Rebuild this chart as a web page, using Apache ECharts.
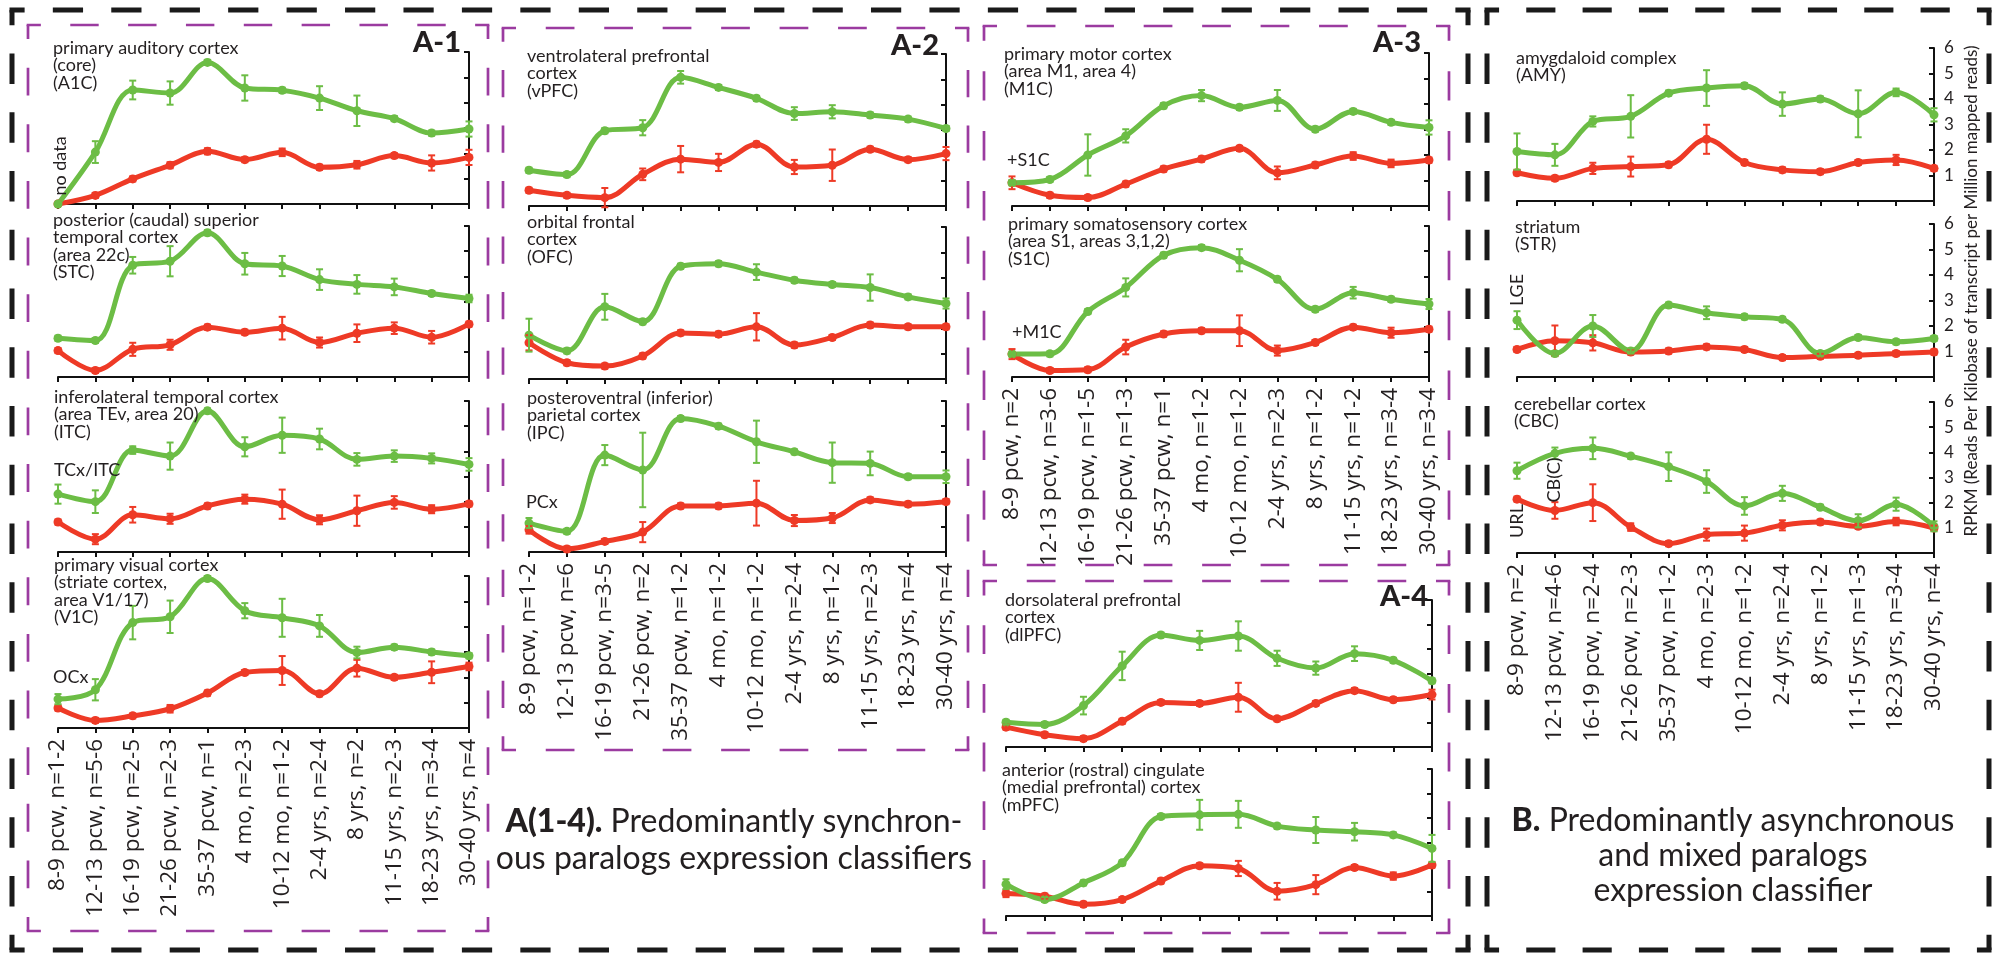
<!DOCTYPE html>
<html><head><meta charset="utf-8">
<script src="https://cdn.jsdelivr.net/npm/echarts@6/dist/echarts.min.js"></script>
<style>html,body{margin:0;padding:0;background:#fff}#c{width:1996px;height:955px}</style>
</head><body><div id="c"></div><script>
// ---------- categories (x tick labels) ----------
const catsA1 = ["8-9 pcw, n=1-2","12-13 pcw, n=5-6","16-19 pcw, n=2-5","21-26 pcw, n=2-3","35-37 pcw, n=1","4 mo, n=2-3","10-12 mo, n=1-2","2-4 yrs, n=2-4","8 yrs, n=2","11-15 yrs, n=2-3","18-23 yrs, n=3-4","30-40 yrs, n=4"];
const catsA2 = ["8-9 pcw, n=1-2","12-13 pcw, n=6","16-19 pcw, n=3-5","21-26 pcw, n=2","35-37 pcw, n=1-2","4 mo, n=1-2","10-12 mo, n=1-2","2-4 yrs, n=2-4","8 yrs, n=1-2","11-15 yrs, n=2-3","18-23 yrs, n=4","30-40 yrs, n=4"];
const catsA3 = ["8-9 pcw, n=2","12-13 pcw, n=3-6","16-19 pcw, n=1-5","21-26 pcw, n=1-3","35-37 pcw, n=1","4 mo, n=1-2","10-12 mo, n=1-2","2-4 yrs, n=2-3","8 yrs, n=1-2","11-15 yrs, n=1-2","18-23 yrs, n=3-4","30-40 yrs, n=3-4"];
const catsB  = ["8-9 pcw, n=2","12-13 pcw, n=4-6","16-19 pcw, n=2-4","21-26 pcw, n=2-3","35-37 pcw, n=1-2","4 mo, n=2-3","10-12 mo, n=1-2","2-4 yrs, n=2-4","8 yrs, n=1-2","11-15 yrs, n=1-3","18-23 yrs, n=3-4","30-40 yrs, n=4"];
const yTicksB = [1,2,3,4,5,6];

// ---------- series values (RPKM) : green / red paralogs with error half-widths ----------
const a1c_green = [0, 2.05, 4.5, 4.38, 5.59, 4.58, 4.49, 4.18, 3.68, 3.37, 2.8, 2.96];
const a1c_green_err = [0, 0.43, 0.37, 0.46, 0.1, 0.5, 0.1, 0.47, 0.6, 0.1, 0.1, 0.3];
const a1c_red = [0, 0.34, 0.99, 1.53, 2.08, 1.75, 2.04, 1.45, 1.55, 1.91, 1.62, 1.84];
const a1c_red_err = [0, 0.1, 0.1, 0.12, 0.12, 0.1, 0.15, 0.1, 0.15, 0.1, 0.3, 0.3];

const stc_green = [1.54, 1.45, 4.44, 4.6, 5.73, 4.5, 4.41, 3.87, 3.68, 3.58, 3.32, 3.12];
const stc_green_err = [0.1, 0.1, 0.33, 0.6, 0.1, 0.43, 0.4, 0.41, 0.37, 0.33, 0.1, 0.15];
const stc_red = [1.05, 0.26, 1.1, 1.28, 1.98, 1.78, 1.94, 1.37, 1.74, 1.94, 1.58, 2.1];
const stc_red_err = [0.1, 0.1, 0.26, 0.2, 0.1, 0.1, 0.45, 0.2, 0.35, 0.23, 0.25, 0.1];

const itc_green = [2.3, 2.0, 4.05, 3.81, 5.61, 4.18, 4.64, 4.49, 3.68, 3.81, 3.72, 3.48];
const itc_green_err = [0.38, 0.45, 0.15, 0.54, 0.1, 0.38, 0.7, 0.41, 0.25, 0.23, 0.2, 0.25];
const itc_red = [1.19, 0.51, 1.48, 1.32, 1.83, 2.1, 1.9, 1.28, 1.64, 1.97, 1.7, 1.91];
const itc_red_err = [0.1, 0.2, 0.31, 0.2, 0.1, 0.18, 0.58, 0.18, 0.6, 0.25, 0.16, 0.1];

const v1c_green = [1.14, 1.51, 4.16, 4.39, 5.9, 4.63, 4.35, 4.03, 2.98, 3.19, 3.0, 2.85];
const v1c_green_err = [0.2, 0.42, 0.66, 0.64, 0.1, 0.3, 0.75, 0.43, 0.23, 0.1, 0.1, 0.1];
const v1c_red = [0.79, 0.3, 0.48, 0.76, 1.38, 2.19, 2.27, 1.35, 2.36, 2.0, 2.2, 2.43];
const v1c_red_err = [0.1, 0.1, 0.1, 0.15, 0.1, 0.1, 0.57, 0.1, 0.33, 0.1, 0.43, 0.15];

const vpfc_green = [1.41, 1.24, 2.97, 3.09, 5.08, 4.68, 4.25, 3.65, 3.72, 3.59, 3.43, 3.06];
const vpfc_green_err = [0.1, 0.1, 0.1, 0.3, 0.25, 0.1, 0.1, 0.25, 0.26, 0.1, 0.1, 0.1];
const vpfc_red = [0.62, 0.42, 0.33, 1.25, 1.85, 1.72, 2.44, 1.54, 1.61, 2.24, 1.83, 2.07];
const vpfc_red_err = [0.1, 0.1, 0.38, 0.23, 0.52, 0.34, 0.1, 0.28, 0.62, 0.1, 0.1, 0.26];

const ofc_green = [1.73, 1.11, 2.85, 2.26, 4.45, 4.55, 4.22, 3.9, 3.73, 3.61, 3.24, 2.98];
const ofc_green_err = [0.65, 0.1, 0.51, 0.1, 0.1, 0.1, 0.31, 0.1, 0.1, 0.52, 0.1, 0.2];
const ofc_red = [1.43, 0.64, 0.51, 0.91, 1.82, 1.77, 2.06, 1.34, 1.64, 2.13, 2.06, 2.06];
const ofc_red_err = [0.3, 0.1, 0.1, 0.1, 0.1, 0.1, 0.54, 0.1, 0.1, 0.1, 0.1, 0.1];

const ipc_green = [1.15, 0.82, 3.85, 3.26, 5.3, 5.0, 4.38, 3.98, 3.55, 3.52, 2.99, 2.99];
const ipc_green_err = [0.2, 0.1, 0.4, 1.48, 0.1, 0.1, 0.84, 0.1, 0.8, 0.47, 0.1, 0.25];
const ipc_red = [0.88, 0.12, 0.42, 0.79, 1.83, 1.83, 1.94, 1.25, 1.35, 2.07, 1.9, 2.0];
const ipc_red_err = [0.15, 0.1, 0.1, 0.4, 0.1, 0.1, 0.89, 0.22, 0.2, 0.1, 0.1, 0.1];

const m1c_green = [0.91, 1.04, 2.0, 2.75, 3.93, 4.33, 3.87, 4.14, 3.01, 3.71, 3.28, 3.08];
const m1c_green_err = [0.1, 0.1, 0.81, 0.26, 0.1, 0.22, 0.1, 0.41, 0.1, 0.1, 0.1, 0.28];
const m1c_red = [0.91, 0.42, 0.33, 0.86, 1.45, 1.84, 2.26, 1.3, 1.61, 1.96, 1.67, 1.8];
const m1c_red_err = [0.25, 0.1, 0.1, 0.1, 0.1, 0.1, 0.1, 0.25, 0.1, 0.15, 0.15, 0.1];

const s1c_green = [0.91, 0.92, 2.6, 3.56, 4.84, 5.14, 4.64, 3.88, 2.69, 3.35, 3.09, 2.9];
const s1c_green_err = [0.1, 0.1, 0.1, 0.36, 0.1, 0.1, 0.44, 0.1, 0.1, 0.23, 0.1, 0.2];
const s1c_red = [0.91, 0.26, 0.29, 1.19, 1.71, 1.84, 1.84, 1.05, 1.37, 1.98, 1.76, 1.9];
const s1c_red_err = [0.2, 0.1, 0.1, 0.29, 0.1, 0.1, 0.61, 0.2, 0.1, 0.1, 0.2, 0.1];

const dlpfc_green = [1.01, 0.92, 1.69, 3.31, 4.57, 4.35, 4.53, 3.62, 3.22, 3.81, 3.54, 2.7];
const dlpfc_green_err = [0.1, 0.1, 0.36, 0.58, 0.1, 0.39, 0.6, 0.31, 0.27, 0.3, 0.1, 0.1];
const dlpfc_red = [0.81, 0.5, 0.34, 1.05, 1.82, 1.78, 2.03, 1.15, 1.78, 2.3, 1.93, 2.14];
const dlpfc_red_err = [0.1, 0.1, 0.1, 0.1, 0.1, 0.1, 0.59, 0.1, 0.1, 0.1, 0.1, 0.2];

const mpfc_green = [1.3, 0.67, 1.35, 2.17, 4.06, 4.13, 4.15, 3.67, 3.51, 3.44, 3.31, 2.76];
const mpfc_green_err = [0.2, 0.1, 0.1, 0.1, 0.1, 0.61, 0.55, 0.1, 0.53, 0.36, 0.1, 0.55];
const mpfc_red = [0.92, 0.81, 0.48, 0.67, 1.43, 2.05, 1.94, 1.01, 1.28, 1.98, 1.63, 2.08];
const mpfc_red_err = [0.15, 0.1, 0.1, 0.1, 0.1, 0.1, 0.31, 0.34, 0.39, 0.1, 0.15, 0.1];

const amy_green = [1.94, 1.81, 3.12, 3.32, 4.23, 4.43, 4.52, 3.8, 4.0, 3.42, 4.26, 3.38];
const amy_green_err = [0.71, 0.43, 0.2, 0.83, 0.1, 0.7, 0.1, 0.46, 0.1, 0.92, 0.15, 0.26];
const amy_red = [1.11, 0.89, 1.28, 1.35, 1.42, 2.42, 1.51, 1.22, 1.15, 1.51, 1.61, 1.28];
const amy_red_err = [0.1, 0.1, 0.22, 0.39, 0.1, 0.57, 0.1, 0.1, 0.1, 0.1, 0.2, 0.1];

const str_green = [2.23, 0.92, 2.0, 1.02, 2.82, 2.52, 2.36, 2.26, 0.92, 1.55, 1.38, 1.51];
const str_green_err = [0.35, 0.1, 0.43, 0.1, 0.1, 0.25, 0.1, 0.1, 0.1, 0.1, 0.1, 0.1];
const str_red = [1.08, 1.42, 1.34, 0.98, 1.02, 1.18, 1.08, 0.76, 0.81, 0.85, 0.92, 0.98];
const str_red_err = [0.1, 0.6, 0.3, 0.1, 0.1, 0.1, 0.1, 0.1, 0.1, 0.1, 0.1, 0.1];

const cbc_green = [3.27, 3.96, 4.16, 3.85, 3.43, 2.84, 1.87, 2.37, 1.82, 1.28, 1.94, 1.06];
const cbc_green_err = [0.32, 0.23, 0.43, 0.1, 0.57, 0.45, 0.35, 0.3, 0.1, 0.26, 0.26, 0.2];
const cbc_red = [2.14, 1.69, 2.0, 1.03, 0.37, 0.73, 0.79, 1.1, 1.23, 1.06, 1.25, 0.99];
const cbc_red_err = [0.1, 0.33, 0.73, 0.15, 0.1, 0.24, 0.3, 0.2, 0.1, 0.1, 0.15, 0.1];

// ---------- layout / styling ----------
const GREEN = '#6cbd45', RED = '#ee3a26', INK = '#231f20', PURPLE = '#9b3ba0';
const FONT = 'Lato, "Open Sans", sans-serif';
const LABEL_FONT = '"Open Sans", Lato, sans-serif';
const colA1 = [58, 469], colA2 = [529, 946], colA3 = [1012, 1429], colA4 = [1006, 1432], colB = [1517, 1934];

const panels = [
  {col: colA1, y: [52, 204],  cats: catsA1, xl: false, yl: false, g: a1c_green, ge: a1c_green_err, r: a1c_red, re: a1c_red_err},
  {col: colA1, y: [226, 377], cats: catsA1, xl: false, yl: false, g: stc_green, ge: stc_green_err, r: stc_red, re: stc_red_err},
  {col: colA1, y: [401, 552], cats: catsA1, xl: false, yl: false, g: itc_green, ge: itc_green_err, r: itc_red, re: itc_red_err},
  {col: colA1, y: [576, 728], cats: catsA1, xl: true,  yl: false, g: v1c_green, ge: v1c_green_err, r: v1c_red, re: v1c_red_err},
  {col: colA2, y: [54, 206],  cats: catsA2, xl: false, yl: false, g: vpfc_green, ge: vpfc_green_err, r: vpfc_red, re: vpfc_red_err},
  {col: colA2, y: [227, 379], cats: catsA2, xl: false, yl: false, g: ofc_green, ge: ofc_green_err, r: ofc_red, re: ofc_red_err},
  {col: colA2, y: [401, 552], cats: catsA2, xl: true,  yl: false, g: ipc_green, ge: ipc_green_err, r: ipc_red, re: ipc_red_err},
  {col: colA3, y: [53, 206],  cats: catsA3, xl: false, yl: false, g: m1c_green, ge: m1c_green_err, r: m1c_red, re: m1c_red_err},
  {col: colA3, y: [226, 377], cats: catsA3, xl: true,  yl: false, g: s1c_green, ge: s1c_green_err, r: s1c_red, re: s1c_red_err},
  {col: colA4, y: [600, 747], cats: catsA3, xl: false, yl: false, g: dlpfc_green, ge: dlpfc_green_err, r: dlpfc_red, re: dlpfc_red_err},
  {col: colA4, y: [769, 916], cats: catsA3, xl: false, yl: false, g: mpfc_green, ge: mpfc_green_err, r: mpfc_red, re: mpfc_red_err},
  {col: colB,  y: [48, 201],  cats: catsB,  xl: false, yl: true,  g: amy_green, ge: amy_green_err, r: amy_red, re: amy_red_err},
  {col: colB,  y: [224, 377], cats: catsB,  xl: false, yl: true,  g: str_green, ge: str_green_err, r: str_red, re: str_red_err},
  {col: colB,  y: [402, 553], cats: catsB,  xl: true,  yl: true,  g: cbc_green, ge: cbc_green_err, r: cbc_red, re: cbc_red_err}
];

function errSeries(i, vals, errs, color) {
  return {
    type: 'custom', xAxisIndex: i, yAxisIndex: i, z: 4, silent: true, animation: false,
    data: vals.map((v, k) => [k, v, errs[k]]),
    encode: {x: 0, y: 1},
    renderItem: (params, api) => {
      const x = api.value(0), y = api.value(1), e = api.value(2);
      if (!e) return null;
      const t = api.coord([x, y + e]), b = api.coord([x, y - e]);
      const cw = 3.5, st = {stroke: color, lineWidth: 2};
      return {type: 'group', children: [
        {type: 'line', shape: {x1: t[0], y1: t[1], x2: b[0], y2: b[1]}, style: st},
        {type: 'line', shape: {x1: t[0] - cw, y1: t[1], x2: t[0] + cw, y2: t[1]}, style: st},
        {type: 'line', shape: {x1: b[0] - cw, y1: b[1], x2: b[0] + cw, y2: b[1]}, style: st}
      ]};
    }
  };
}
function lineSeries(i, vals, color) {
  return {type: 'line', xAxisIndex: i, yAxisIndex: i, data: vals, smooth: 0.35, symbol: 'circle', symbolSize: 9,
    lineStyle: {width: 5, color: color, cap: 'round'}, itemStyle: {color: color}, z: 3, animation: false, silent: true};
}

const grids = [], xAxes = [], yAxes = [], series = [];
panels.forEach((p, i) => {
  grids.push({left: p.col[0], top: p.y[0], width: p.col[1] - p.col[0], height: p.y[1] - p.y[0], containLabel: false});
  xAxes.push({type: 'category', gridIndex: i, data: p.cats, boundaryGap: false,
    axisLine: {show: true, onZero: false, lineStyle: {color: '#111', width: 2}},
    axisTick: {show: true, length: 5, interval: 0, lineStyle: {color: '#111', width: 2}},
    axisLabel: {show: p.xl, interval: 0, rotate: 90, margin: 11, fontSize: 22.5, color: INK, fontFamily: LABEL_FONT},
    splitLine: {show: false}});
  yAxes.push({type: 'value', gridIndex: i, position: 'right', min: 0, max: 6, interval: 1,
    axisLine: {show: true, lineStyle: {color: '#111', width: 2}},
    axisTick: {show: true, inside: true, length: 5, lineStyle: {color: '#111', width: 2}},
    axisLabel: {show: p.yl, margin: 10, fontSize: 17, color: INK, fontFamily: FONT,
      formatter: v => (yTicksB.indexOf(v) >= 0 ? String(v) : '')},
    splitLine: {show: false}});
  series.push(lineSeries(i, p.r, RED), lineSeries(i, p.g, GREEN), errSeries(i, p.r, p.re, RED), errSeries(i, p.g, p.ge, GREEN));
});

// dashed frame helpers (dashes centred on the corners)
function dline(x1, y1, x2, y2, color, w, dash, gap) {
  const L = Math.hypot(x2 - x1, y2 - y1);
  const n = Math.max(1, Math.round(L / (dash + gap)));
  const per = L / n, d = dash * per / (dash + gap), g = per - d;
  return {type: 'line', silent: true, z: 0, shape: {x1, y1, x2, y2},
    style: {stroke: color, lineWidth: w, lineDash: [d, g], lineDashOffset: d / 2, lineCap: 'butt'}};
}
function frame(x1, y1, x2, y2, color, w, dash, gap) {
  return [
    dline(x1 - w / 2, y1, x2 + w / 2, y1, color, w, dash, gap),
    dline(x1 - w / 2, y2, x2 + w / 2, y2, color, w, dash, gap),
    dline(x1, y1, x1, y2, color, w, dash, gap),
    dline(x2, y1, x2, y2, color, w, dash, gap)
  ];
}
function txt(x, y, text, size, opts) {
  opts = opts || {};
  return {type: 'text', x: x, y: y, rotation: opts.rot || 0, silent: true, z: 10,
    style: {text: text, fill: INK, fontSize: size, fontFamily: opts.ff || FONT, fontWeight: opts.w || 'normal',
      align: opts.align || 'left', verticalAlign: opts.va || 'top', lineHeight: opts.lh || size * 1.1, rich: opts.rich}};
}
const RS = 18, RLH = 17.5;

const elements = [].concat(
  frame(12, 10, 1468, 950, '#1a1a1a', 5, 30, 28),
  frame(1487, 10, 1989, 950, '#1a1a1a', 5, 30, 28),
  frame(28, 25, 488, 931, PURPLE, 2.7, 28, 29),
  frame(503, 28, 968, 750, PURPLE, 2.7, 28, 29),
  frame(984, 26, 1449, 565, PURPLE, 2.7, 28, 29),
  frame(984, 581, 1449, 933, PURPLE, 2.7, 28, 29),
  [
    // panel tags
    txt(461, 43, 'A-1', 29, {w: 900, align: 'right', va: 'middle'}),
    txt(939, 46, 'A-2', 29, {w: 900, align: 'right', va: 'middle'}),
    txt(1421, 43, 'A-3', 29, {w: 900, align: 'right', va: 'middle'}),
    txt(1428, 597, 'A-4', 29, {w: 900, align: 'right', va: 'middle'}),
    // region names
    txt(53, 39, 'primary auditory cortex\n(core)\n(A1C)', RS, {lh: RLH}),
    txt(53, 211, 'posterior (caudal) superior\ntemporal cortex\n(area 22c)\n(STC)', RS, {lh: RLH}),
    txt(54, 388, 'inferolateral temporal cortex\n(area TEv, area 20)\n(ITC)', RS, {lh: RLH}),
    txt(54, 556, 'primary visual cortex\n(striate cortex,\narea V1/17)\n(V1C)', RS, {lh: RLH}),
    txt(527, 47, 'ventrolateral prefrontal\ncortex\n(vPFC)', RS, {lh: RLH}),
    txt(527, 213, 'orbital frontal\ncortex\n(OFC)', RS, {lh: RLH}),
    txt(527, 389, 'posteroventral (inferior)\nparietal cortex\n(IPC)', RS, {lh: RLH}),
    txt(1004, 45, 'primary motor cortex\n(area M1, area 4)\n(M1C)', RS, {lh: RLH}),
    txt(1008, 215, 'primary somatosensory cortex\n(area S1, areas 3,1,2)\n(S1C)', RS, {lh: RLH}),
    txt(1005, 591, 'dorsolateral prefrontal\ncortex\n(dlPFC)', RS, {lh: RLH}),
    txt(1002, 761, 'anterior (rostral) cingulate\n(medial prefrontal) cortex\n(mPFC)', RS, {lh: RLH}),
    txt(1516, 49, 'amygdaloid complex\n(AMY)', RS, {lh: RLH}),
    txt(1515, 218, 'striatum\n(STR)', RS, {lh: RLH}),
    txt(1514, 395, 'cerebellar cortex\n(CBC)', RS, {lh: RLH}),
    // small annotations
    txt(60, 166, 'no data', RS, {rot: Math.PI / 2, align: 'center', va: 'middle'}),
    txt(54, 470, 'TCx/ITC', RS, {va: 'middle'}),
    txt(53, 677, 'OCx', RS, {va: 'middle'}),
    txt(526, 502, 'PCx', RS, {va: 'middle'}),
    txt(1007, 160, '+S1C', RS, {va: 'middle'}),
    txt(1012, 332, '+M1C', RS, {va: 'middle'}),
    txt(1517, 290, 'LGE', RS, {rot: Math.PI / 2, align: 'center', va: 'middle'}),
    txt(1517, 521, 'URL', RS, {rot: Math.PI / 2, align: 'center', va: 'middle'}),
    txt(1554, 480, 'CB(C)', RS, {rot: Math.PI / 2, align: 'center', va: 'middle'}),
    txt(1972, 291, 'RPKM (Reads Per Kilobase of transcript per Million mapped reads)', 17, {rot: Math.PI / 2, align: 'center', va: 'middle'}),
    // captions
    txt(734, 840, '{b|A(1-4).} Predominantly synchron-\nous paralogs expression classifiers', 32,
      {align: 'center', va: 'middle', lh: 37, rich: {b: {fontWeight: 900, fontSize: 32, fontFamily: FONT, fill: INK}}}),
    txt(1733, 856, '{b|B.} Predominantly asynchronous\nand mixed paralogs\nexpression classifier', 32,
      {align: 'center', va: 'middle', lh: 35, rich: {b: {fontWeight: 900, fontSize: 32, fontFamily: FONT, fill: INK}}})
  ]
);

const chart = echarts.init(document.getElementById('c'), null, {width: 1996, height: 955, renderer: 'canvas'});
chart.setOption({
  backgroundColor: '#ffffff',
  animation: false,
  grid: grids, xAxis: xAxes, yAxis: yAxes, series: series,
  graphic: {elements: elements}
});
</script></body></html>
